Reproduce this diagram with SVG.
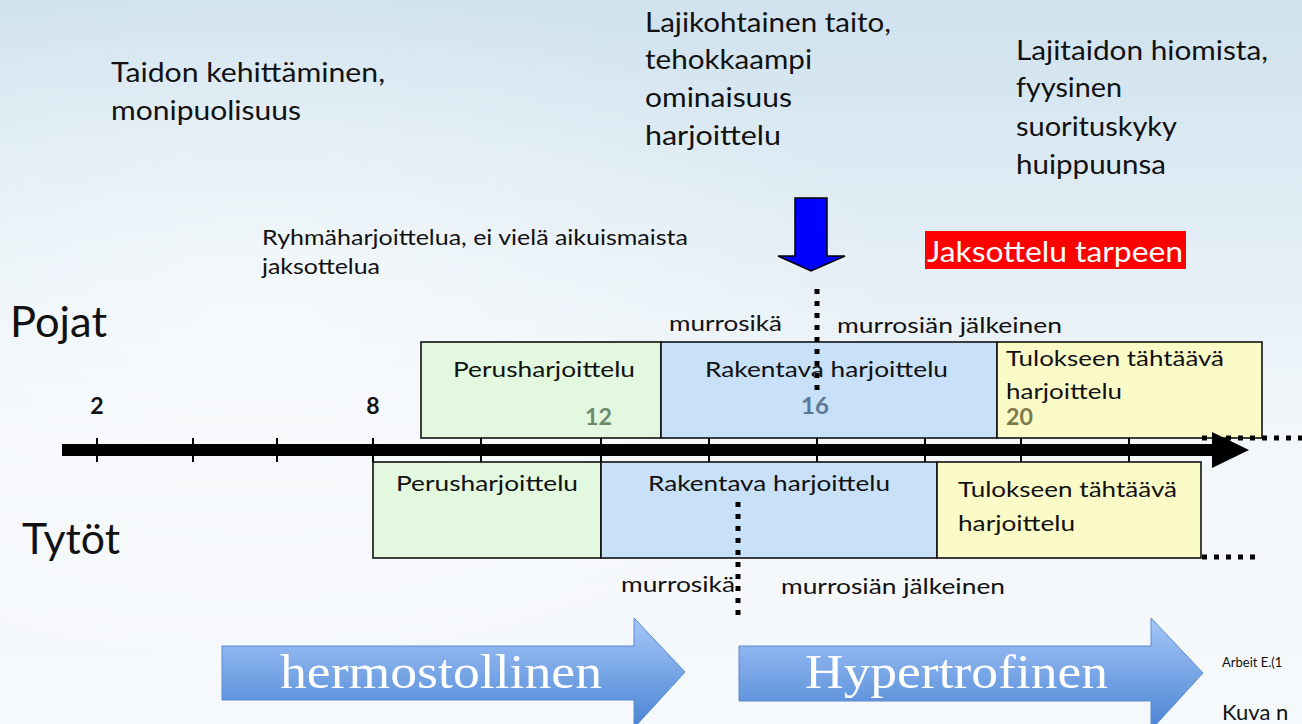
<svg xmlns="http://www.w3.org/2000/svg" width="1302" height="724" viewBox="0 0 1302 724">
<defs>
<linearGradient id="bg" x1="0" y1="0" x2="0" y2="1">
<stop offset="0" stop-color="#cfe2ee"/>
<stop offset="0.35" stop-color="#e3eef5"/>
<stop offset="0.6" stop-color="#f3f7fa"/>
<stop offset="1" stop-color="#f6f9fb"/>
</linearGradient>
<radialGradient id="glow" cx="0.2" cy="0.45" r="0.5">
<stop offset="0" stop-color="#ffffff" stop-opacity="0.6"/>
<stop offset="1" stop-color="#ffffff" stop-opacity="0"/>
</radialGradient>
<linearGradient id="bigArrow" x1="0" y1="0" x2="0" y2="1">
<stop offset="0" stop-color="#a6c7f8"/>
<stop offset="1" stop-color="#4a84d4"/>
</linearGradient>
<style>
.t{font-family:Lato,"Open Sans","Liberation Sans",sans-serif;fill:#111}
.top{font-size:26px}
.box{font-size:22px}
.num{font-size:23px;font-weight:bold}
.lbl{font-size:42px}
.small{font-size:21px}
.serif{font-family:"Liberation Serif","DejaVu Serif",serif;fill:#ffffff;font-size:48px}
.dot{stroke:#000;stroke-width:5;stroke-dasharray:5 7;fill:none}
.tick{stroke:#000;stroke-width:2}
.g{fill:#e2f8df;stroke:#111;stroke-width:1.6}
.b{fill:#c8e0f8;stroke:#111;stroke-width:1.6}
.y{fill:#fbfbc8;stroke:#111;stroke-width:1.6}
</style>
</defs>
<rect x="0" y="0" width="1302" height="724" fill="url(#bg)"/>
<rect x="0" y="0" width="1302" height="724" fill="url(#glow)"/>

<g id="top-texts">
<text class="t top" x="111" y="82" textLength="274" lengthAdjust="spacingAndGlyphs">Taidon kehittäminen,</text>
<text class="t top" x="111" y="120" textLength="190" lengthAdjust="spacingAndGlyphs">monipuolisuus</text>
<text class="t top" x="645" y="32" textLength="246" lengthAdjust="spacingAndGlyphs">Lajikohtainen taito,</text>
<text class="t top" x="645" y="69" textLength="167" lengthAdjust="spacingAndGlyphs">tehokkaampi</text>
<text class="t top" x="645" y="107" textLength="147" lengthAdjust="spacingAndGlyphs">ominaisuus</text>
<text class="t top" x="645" y="145" textLength="136" lengthAdjust="spacingAndGlyphs">harjoittelu</text>
<text class="t top" x="1016" y="60" textLength="252" lengthAdjust="spacingAndGlyphs">Lajitaidon hiomista,</text>
<text class="t top" x="1016" y="97" textLength="106" lengthAdjust="spacingAndGlyphs">fyysinen</text>
<text class="t top" x="1016" y="136" textLength="161" lengthAdjust="spacingAndGlyphs">suorituskyky</text>
<text class="t top" x="1016" y="174" textLength="150" lengthAdjust="spacingAndGlyphs">huippuunsa</text>
<text class="t small" x="262" y="245" textLength="426" lengthAdjust="spacingAndGlyphs">Ryhmäharjoittelua, ei vielä aikuismaista</text>
<text class="t small" x="262" y="274" textLength="118" lengthAdjust="spacingAndGlyphs">jaksottelua</text>
</g>

<g id="down-arrow">
<polygon points="795,198 827,198 827,256 845,256 811,271 778,256 795,256" fill="#0000ff" stroke="#000" stroke-width="1.5"/>
</g>

<g id="jaksottelu">
<rect x="925" y="231" width="261" height="38" fill="#ff0000"/>
<text class="t" x="927" y="262" font-size="29" style="fill:#fff" textLength="256" lengthAdjust="spacingAndGlyphs">Jaksottelu tarpeen</text>
</g>

<g id="labels">
<text class="t lbl" x="10" y="337" textLength="97" lengthAdjust="spacingAndGlyphs">Pojat</text>
<text class="t lbl" x="22" y="554" textLength="98" lengthAdjust="spacingAndGlyphs">Tytöt</text>
<text class="t num" x="97" y="414" text-anchor="middle">2</text>
<text class="t num" x="373" y="414" text-anchor="middle">8</text>
</g>

<g id="pojat-perus">
<rect class="g" x="421" y="342" width="240" height="96"/>
<text class="t box" x="453" y="377" textLength="182" lengthAdjust="spacingAndGlyphs">Perusharjoittelu</text>
<text class="t num" x="585" y="425" style="fill:#6f8a6b" textLength="27" lengthAdjust="spacingAndGlyphs">12</text>
</g>
<g id="pojat-rakentava">
<rect class="b" x="661" y="342" width="336" height="96"/>
<text class="t box" x="705" y="377" textLength="243" lengthAdjust="spacingAndGlyphs">Rakentava harjoittelu</text>
<text class="t num" x="801" y="414" style="fill:#5b7893" textLength="28" lengthAdjust="spacingAndGlyphs">16</text>
</g>
<g id="pojat-tulokseen">
<rect class="y" x="997" y="342" width="265" height="96"/>
<text class="t box" x="1006" y="366" textLength="218" lengthAdjust="spacingAndGlyphs">Tulokseen tähtäävä</text>
<text class="t box" x="1006" y="399" textLength="116" lengthAdjust="spacingAndGlyphs">harjoittelu</text>
<text class="t num" x="1006" y="425" style="fill:#7e7b4d" textLength="27" lengthAdjust="spacingAndGlyphs">20</text>
</g>

<g id="tytot-perus">
<rect class="g" x="373" y="462" width="228" height="96"/>
<text class="t box" x="396" y="491" textLength="182" lengthAdjust="spacingAndGlyphs">Perusharjoittelu</text>
</g>
<g id="tytot-rakentava">
<rect class="b" x="601" y="462" width="336" height="96"/>
<text class="t box" x="648" y="491" textLength="242" lengthAdjust="spacingAndGlyphs">Rakentava harjoittelu</text>
</g>
<g id="tytot-tulokseen">
<rect class="y" x="937" y="462" width="264" height="96"/>
<text class="t box" x="958" y="497" textLength="219" lengthAdjust="spacingAndGlyphs">Tulokseen tähtäävä</text>
<text class="t box" x="958" y="531" textLength="117" lengthAdjust="spacingAndGlyphs">harjoittelu</text>
</g>

<g id="connectors">
<rect x="62" y="444" width="1152" height="12" fill="#000"/>
<polygon points="1212,432 1249,450 1212,468" fill="#000"/>
<line class="tick" x1="97" y1="438" x2="97" y2="462"/>
<line class="tick" x1="193" y1="438" x2="193" y2="462"/>
<line class="tick" x1="277" y1="438" x2="277" y2="462"/>
<line class="tick" x1="373" y1="438" x2="373" y2="462"/>
<line class="tick" x1="481" y1="438" x2="481" y2="462"/>
<line class="tick" x1="601" y1="438" x2="601" y2="462"/>
<line class="tick" x1="709" y1="438" x2="709" y2="462"/>
<line class="tick" x1="817" y1="438" x2="817" y2="462"/>
<line class="tick" x1="925" y1="438" x2="925" y2="462"/>
<line class="tick" x1="1021" y1="438" x2="1021" y2="462"/>
<line class="tick" x1="1129" y1="438" x2="1129" y2="462"/>
<line class="dot" x1="817" y1="289" x2="817" y2="392"/>
<line class="dot" x1="738" y1="502" x2="738" y2="620"/>
<line class="dot" x1="1202" y1="438" x2="1302" y2="438"/>
<line class="dot" x1="1202" y1="557" x2="1262" y2="557"/>
</g>

<g id="murrosika-labels">
<text class="t box" x="669" y="331" textLength="113" lengthAdjust="spacingAndGlyphs">murrosikä</text>
<text class="t box" x="837" y="333" textLength="225" lengthAdjust="spacingAndGlyphs">murrosiän jälkeinen</text>
<text class="t box" x="621" y="592" textLength="114" lengthAdjust="spacingAndGlyphs">murrosikä</text>
<text class="t box" x="781" y="594" textLength="224" lengthAdjust="spacingAndGlyphs">murrosiän jälkeinen</text>
</g>

<g id="arrow-hermostollinen">
<polygon points="222,646 634,646 634,618 685,672 634,728 634,700 222,700" fill="url(#bigArrow)" stroke="#5a8ad0" stroke-width="1"/>
<text class="serif" x="280" y="688" textLength="322" lengthAdjust="spacingAndGlyphs">hermostollinen</text>
</g>
<g id="arrow-hypertrofinen">
<polygon points="739,646 1151,646 1151,618 1203,673 1151,730 1151,701 739,701" fill="url(#bigArrow)" stroke="#5a8ad0" stroke-width="1"/>
<text class="serif" x="805" y="688" textLength="303" lengthAdjust="spacingAndGlyphs">Hypertrofinen</text>
</g>

<g id="credits">
<text class="t" x="1222" y="667" font-size="13">Arbeit E.(1</text>
<text class="t" x="1222" y="720" font-size="22">Kuva n</text>
</g>
</svg>
